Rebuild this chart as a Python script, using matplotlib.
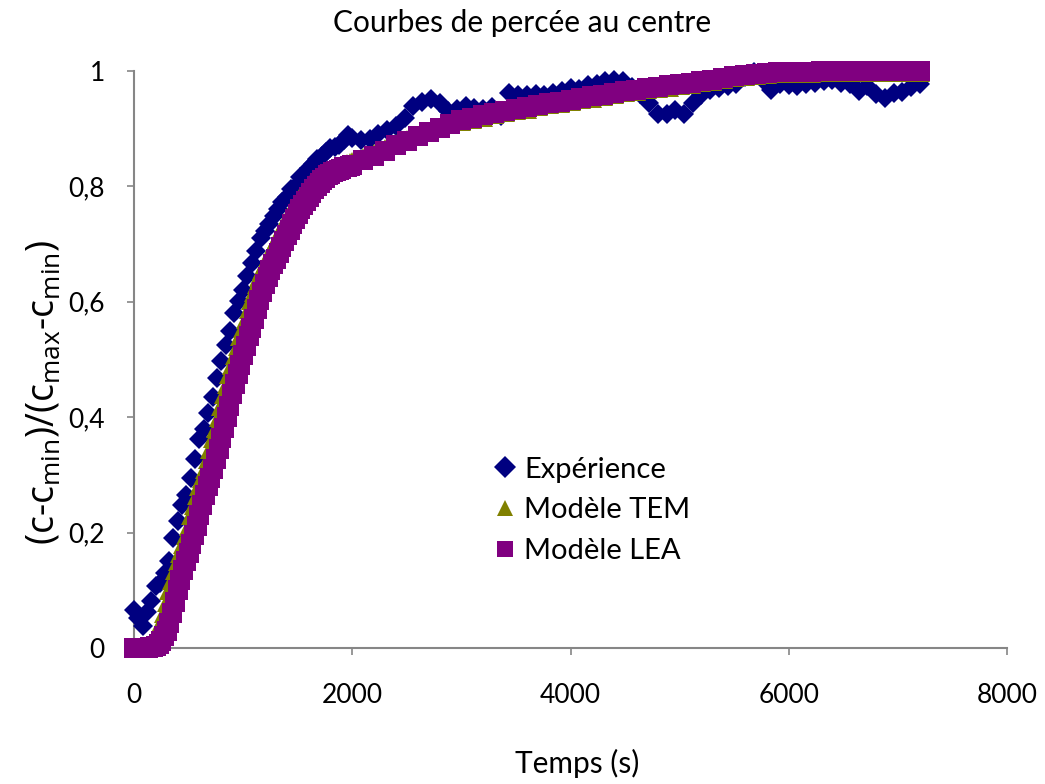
import matplotlib
matplotlib.use("Agg")
import matplotlib.pyplot as plt
from matplotlib.ticker import FixedLocator

plt.rcParams['font.family'] = ['Lato', 'DejaVu Sans']
plt.rcParams['mathtext.default'] = 'regular'

# Expérience : temps (s) et concentration réduite
t_exp = [0, 40, 80, 120, 160, 200, 240, 280, 320, 360, 400, 440, 480, 520, 560, 600, 640, 680,
         720, 760, 800, 840, 880, 920, 960, 1000, 1040, 1080, 1120, 1160, 1200, 1240, 1280, 1320,
         1360, 1400, 1440, 1480, 1520, 1560, 1600, 1640, 1680, 1720, 1760, 1800, 1840, 1880, 1920,
         1960, 2000,
         2080, 2160, 2240, 2320, 2400, 2480, 2560, 2640, 2720, 2800, 2880, 2960, 3040, 3120, 3200,
         3280, 3360, 3440, 3520, 3600, 3680, 3760, 3840, 3920, 4000, 4080, 4160, 4240, 4320, 4400,
         4480, 4560, 4640, 4720, 4800, 4880, 4960, 5040, 5120, 5200, 5280, 5360, 5440, 5520, 5600,
         5680, 5760, 5840, 5920, 6000, 6080, 6160, 6240, 6320, 6400, 6480, 6560, 6640, 6720, 6800,
         6880, 6960, 7040, 7120, 7200]
c_exp = [0.066, 0.052, 0.038, 0.062, 0.082, 0.108, 0.112, 0.130, 0.150, 0.190, 0.220, 0.248, 0.265,
         0.295, 0.328, 0.362, 0.380, 0.408, 0.435, 0.468, 0.498, 0.525, 0.550, 0.580, 0.602, 0.620,
         0.645, 0.668, 0.688, 0.710, 0.722, 0.735, 0.748, 0.760, 0.773, 0.782, 0.795, 0.800, 0.816,
         0.822, 0.832, 0.838, 0.848, 0.852, 0.860, 0.866, 0.868, 0.872, 0.880, 0.889, 0.884,
         0.880, 0.882, 0.890, 0.897, 0.905, 0.918, 0.940, 0.946, 0.951, 0.944, 0.930, 0.934, 0.940,
         0.936, 0.935, 0.938, 0.922, 0.962, 0.958, 0.958, 0.960, 0.958, 0.962, 0.965, 0.970, 0.968,
         0.975, 0.977, 0.982, 0.984, 0.983, 0.972, 0.960, 0.945, 0.926, 0.926, 0.932, 0.925, 0.945,
         0.958, 0.967, 0.970, 0.974, 0.978, 0.990, 0.998, 0.984, 0.967, 0.978, 0.975, 0.974, 0.978,
         0.979, 0.983, 0.984, 0.980, 0.978, 0.966, 0.974, 0.960, 0.953, 0.962, 0.963, 0.972, 0.978]

# Modèles : même grille de temps pour TEM et LEA
t_mod = [0, 25, 50, 75, 100, 125, 150, 175, 200, 225, 250, 275, 300, 325, 350, 375, 400, 425, 450,
         475, 500, 525, 550, 575, 600, 625, 650, 675, 700, 725, 750, 775, 800, 825, 850, 875, 900,
         925, 950, 975, 1000, 1025, 1050, 1075, 1100, 1125, 1150, 1175, 1200, 1225, 1250, 1275,
         1300, 1325, 1350, 1375, 1400, 1425, 1450, 1475, 1500, 1525, 1550, 1575, 1600, 1625, 1650,
         1675, 1700, 1725, 1750, 1775, 1800, 1825, 1850, 1875, 1900, 1925, 1950, 1975, 2000,
         2100, 2200, 2300, 2400, 2500, 2600, 2700, 2800, 2900, 3000, 3100, 3200, 3300, 3400, 3500,
         3600, 3700, 3800, 3900, 4000, 4100, 4200, 4300, 4400, 4500, 4600, 4700, 4800, 4900, 5000,
         5100, 5200, 5300, 5400, 5500, 5600, 5700, 5800, 5900, 6000, 6100, 6200, 6300, 6400, 6500,
         6600, 6700, 6800, 6900, 7000, 7100, 7200]
c_tem = [0, 0, 0, 0.001, 0.002, 0.003, 0.007, 0.012, 0.020, 0.030, 0.044, 0.060, 0.080, 0.100,
         0.118, 0.135, 0.150, 0.165, 0.180, 0.195, 0.212, 0.230, 0.248, 0.265, 0.280, 0.295, 0.311,
         0.327, 0.345, 0.364, 0.382, 0.400, 0.420, 0.440, 0.458, 0.475, 0.491, 0.507, 0.524, 0.540,
         0.555, 0.570, 0.587, 0.603, 0.617, 0.630, 0.643, 0.655, 0.665, 0.675, 0.685, 0.695, 0.705,
         0.715, 0.725, 0.735, 0.744, 0.752, 0.760, 0.768, 0.775, 0.782, 0.789, 0.795, 0.801, 0.806,
         0.811, 0.815, 0.819, 0.822, 0.825, 0.827, 0.829, 0.831, 0.833, 0.834, 0.836, 0.837, 0.839,
         0.841, 0.843,
         0.849, 0.857, 0.865, 0.873, 0.880, 0.888, 0.895, 0.902, 0.908, 0.913, 0.917, 0.921, 0.925,
         0.929, 0.932, 0.935, 0.939, 0.942, 0.945, 0.948, 0.951, 0.954, 0.957, 0.960, 0.963, 0.965,
         0.968, 0.970, 0.973, 0.975, 0.978, 0.981, 0.983, 0.986, 0.989, 0.991, 0.993, 0.995, 0.996,
         0.996, 0.997, 0.997, 0.998, 0.998, 0.998, 0.998, 0.998, 0.998, 0.998, 0.998, 0.998, 0.998]
c_lea = [0, 0, 0, 0, 0, 0, 0.001, 0.002, 0.003, 0.007, 0.012, 0.020, 0.030, 0.044, 0.060, 0.080,
         0.100, 0.118, 0.135, 0.150, 0.165, 0.180, 0.195, 0.212, 0.230, 0.248, 0.265, 0.280, 0.295,
         0.311, 0.327, 0.345, 0.364, 0.382, 0.400, 0.420, 0.440, 0.458, 0.475, 0.491, 0.507, 0.524,
         0.540, 0.555, 0.570, 0.587, 0.603, 0.617, 0.630, 0.643, 0.655, 0.665, 0.675, 0.685, 0.695,
         0.705, 0.715, 0.725, 0.735, 0.744, 0.752, 0.760, 0.768, 0.775, 0.782, 0.789, 0.795, 0.801,
         0.806, 0.811, 0.815, 0.819, 0.822, 0.825, 0.827, 0.829, 0.831, 0.833, 0.834, 0.836, 0.837,
         0.845, 0.853, 0.862, 0.871, 0.879, 0.887, 0.895, 0.902, 0.909, 0.915, 0.919, 0.923, 0.927,
         0.931, 0.934, 0.937, 0.941, 0.944, 0.947, 0.950, 0.953, 0.956, 0.959, 0.962, 0.965, 0.967,
         0.970, 0.972, 0.975, 0.977, 0.980, 0.983, 0.985, 0.988, 0.991, 0.993, 0.995, 0.997, 0.998,
         0.998, 0.999, 0.999, 1.0, 1.0, 1.0, 1.0, 1.0, 1.0, 1.0, 1.0, 1.0, 1.0]

x_ticks = [0, 2000, 4000, 6000, 8000]
y_ticks = [0, 0.2, 0.4, 0.6, 0.8, 1.0]
y_tick_labels = ["0", "0,2", "0,4", "0,6", "0,8", "1"]

fig = plt.figure(figsize=(10.45, 7.84), dpi=100)
ax = fig.add_axes([134 / 1045, 136 / 784, 873 / 1045, 577 / 784])

ax.plot(t_exp, c_exp, linestyle="none", marker="D", markersize=10.5, color="#000080",
        markeredgewidth=0, clip_on=False, zorder=3, label="Expérience")
ax.plot(t_mod, c_tem, linestyle="none", marker="^", markersize=15, color="#808000",
        markeredgewidth=0, clip_on=False, zorder=4, label="Modèle TEM")
ax.plot(t_mod, c_lea, linestyle="none", marker="s", markersize=14, color="#800080",
        markeredgewidth=0, clip_on=False, zorder=5, label="Modèle LEA")

ax.set_xlim(0, 8000)
ax.set_ylim(0, 1)
ax.xaxis.set_major_locator(FixedLocator(x_ticks))
ax.yaxis.set_major_locator(FixedLocator(y_ticks))
ax.set_yticklabels(y_tick_labels)

for side in ["top", "right"]:
    ax.spines[side].set_visible(False)
for side in ["left", "bottom"]:
    ax.spines[side].set_color("#868686")
    ax.spines[side].set_linewidth(1.5)

ax.tick_params(axis="x", direction="out", length=5, width=1.2, color="#868686",
               labelsize=19, pad=20)
ax.tick_params(axis="y", direction="out", length=5, width=1.2, color="#868686",
               labelsize=19, pad=16)

fig.text(0.5, 1 - 23 / 784, "Courbes de percée au centre", ha="center", va="center",
         fontsize=21.5)
fig.text(577 / 1045, 1 - 763 / 784, "Temps (s)", ha="center", va="center", fontsize=21.5)
fig.text(45 / 1045, 1 - 392 / 784, "(c-c$_{min}$)/(c$_{max}$-c$_{min}$)", rotation=90,
         ha="center", va="center", fontsize=27, family=["Open Sans", "DejaVu Sans"])

leg = ax.legend(loc="upper left", bbox_to_anchor=(485 / 1045, 1 - 445 / 784),
                bbox_transform=fig.transFigure, frameon=False, fontsize=21,
                handlelength=0.6, handletextpad=0.35, labelspacing=0.5, borderaxespad=0)
for h in leg.legend_handles:
    h.set_markersize(11)

fig.savefig("out.png", dpi=100)
